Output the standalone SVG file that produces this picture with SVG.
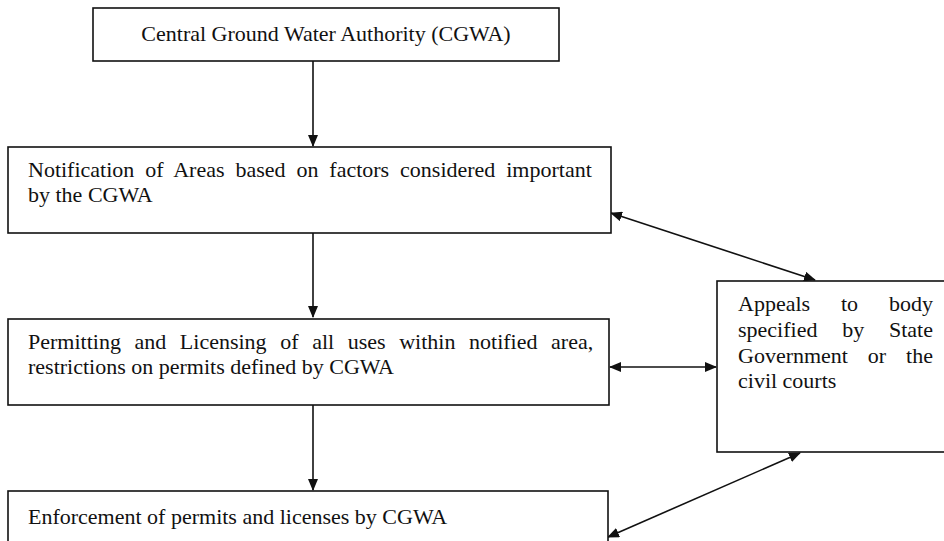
<svg xmlns="http://www.w3.org/2000/svg" width="944" height="541" viewBox="0 0 944 541">
<defs>
<marker id="ah" viewBox="0 0 12 10" refX="11" refY="5" markerWidth="12" markerHeight="10" markerUnits="userSpaceOnUse" orient="auto-start-reverse">
<path d="M0,0 L12,5 L0,10 Z" fill="#111"/>
</marker>
<style>
.box{fill:#fff;stroke:#111;stroke-width:1.6}
.t{font-size:22px;fill:#111}
.c{stroke:#111;stroke-width:1.6;fill:none}
</style>
</defs>
<rect width="944" height="541" fill="#fff"/>
<g id="connectors">
<line class="c" x1="313" y1="61" x2="313" y2="146" marker-end="url(#ah)"/>
<line class="c" x1="313" y1="233" x2="313" y2="317" marker-end="url(#ah)"/>
<line class="c" x1="313" y1="405" x2="313" y2="490" marker-end="url(#ah)"/>
<line class="c" x1="611" y1="213" x2="815" y2="280" marker-start="url(#ah)" marker-end="url(#ah)"/>
<line class="c" x1="610" y1="367" x2="716" y2="367" marker-start="url(#ah)" marker-end="url(#ah)"/>
<line class="c" x1="608" y1="537" x2="800" y2="453" marker-start="url(#ah)" marker-end="url(#ah)"/>
</g>
<g font-family="Liberation Serif, Times New Roman, DejaVu Serif, serif">
<g id="cgwa">
<rect class="box" x="93" y="8" width="466" height="53"/>
<text class="t" x="326" y="41" text-anchor="middle">Central Ground Water Authority (CGWA)</text>
</g>
<g id="notification">
<rect class="box" x="8" y="147" width="603" height="86"/>
<text class="t" x="28" y="177" word-spacing="5.4">Notification of Areas based on factors considered important</text>
<text class="t" x="28" y="202">by the CGWA</text>
</g>
<g id="permitting">
<rect class="box" x="8" y="319" width="601" height="86"/>
<text class="t" x="28" y="349" word-spacing="8.1">Permitting and Licensing of all uses within notified area,</text>
<text class="t" x="28" y="374">restrictions on permits defined by CGWA</text>
</g>
<g id="enforcement">
<rect class="box" x="8" y="491" width="600" height="52"/>
<text class="t" x="28" y="524">Enforcement of permits and licenses by CGWA</text>
</g>
<g id="appeals">
<rect class="box" x="717" y="281" width="240" height="171"/>
<text class="t" x="738" y="311" word-spacing="25.4">Appeals to body</text>
<text class="t" x="738" y="337" word-spacing="19.3">specified by State</text>
<text class="t" x="738" y="363" word-spacing="14.4">Government or the</text>
<text class="t" x="738" y="388">civil courts</text>
</g>
</g>
</svg>
